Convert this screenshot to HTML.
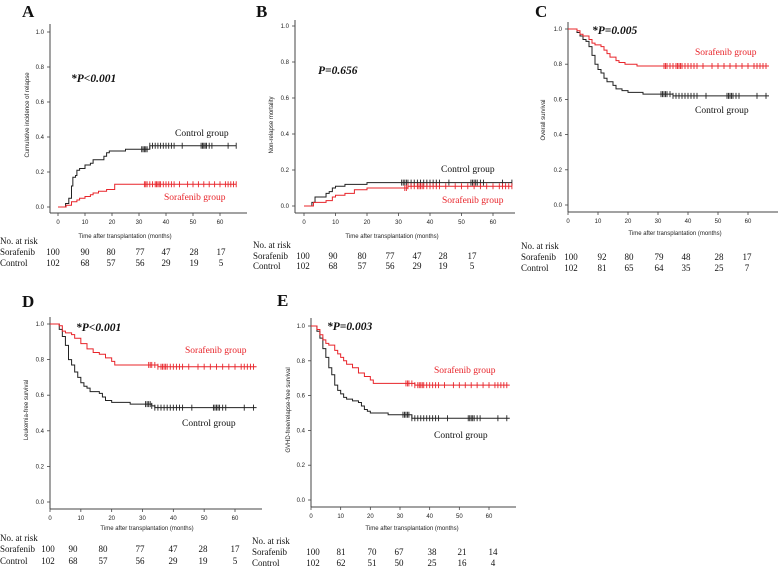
<!DOCTYPE html>
<html><head><meta charset="utf-8">
<style>
html,body{margin:0;padding:0;background:#fff;}
svg{display:block;}
.tk{font-family:"Liberation Sans",sans-serif;font-size:6px;fill:#222;}
.ser{font-family:"Liberation Serif",serif;fill:#111;}
</style></head>
<body>
<svg id="fig" width="778" height="567" viewBox="0 0 778 567" xmlns="http://www.w3.org/2000/svg"></svg>
<script>
// ---- data ----
const xTicks = [0,10,20,30,40,50,60];
const yTicks = [0,0.2,0.4,0.6,0.8,1.0];
const riskSorA = [100,90,80,77,47,28,17];
const riskCtlA = [102,68,57,56,29,19,5];
const riskSorC = [100,92,80,79,48,28,17];
const riskCtlC = [102,81,65,64,35,25,7];
const riskSorE = [100,81,70,67,38,21,14];
const riskCtlE = [102,62,51,50,25,16,4];

const ctlA = [[0,0],[2.8,0.02],[4,0.05],[5,0.12],[5.5,0.17],[6.5,0.18],[7,0.21],[8,0.22],[10,0.24],[12,0.25],[13,0.27],[16,0.27],[17,0.29],[18,0.31],[19,0.32],[25,0.33],[34,0.35],[66,0.35]];
const sorA = [[0,0],[3,0.01],[5,0.03],[7,0.04],[8,0.05],[10,0.06],[12,0.07],[13,0.08],[15,0.09],[18,0.10],[21,0.13],[66,0.13]];
const ctlB = [[0,0],[2.5,0.02],[3.5,0.05],[7,0.07],[8,0.08],[9,0.10],[10,0.11],[13,0.12],[20,0.13],[66,0.13]];
const sorB = [[0,0],[3,0.02],[7,0.03],[9,0.05],[10,0.06],[13,0.07],[16,0.09],[20,0.10],[33,0.11],[66,0.11]];
const ctlC = [[0,1],[3,0.98],[4,0.96],[5,0.94],[6,0.93],[7,0.90],[8,0.85],[9,0.80],[10,0.77],[11,0.75],[12,0.72],[13,0.70],[15,0.68],[16,0.66],[18,0.65],[20,0.64],[25,0.63],[35,0.62],[67,0.62]];
const sorC = [[0,1],[3,0.99],[4,0.97],[5,0.96],[7,0.94],[8,0.92],[9,0.91],[11,0.90],[12,0.88],[13,0.86],[14,0.84],[16,0.82],[17,0.81],[19,0.80],[23,0.79],[67,0.79]];
const ctlD = [[0,1],[3,0.97],[4,0.93],[5,0.88],[6,0.80],[7,0.77],[8,0.73],[9,0.70],[10,0.67],[11,0.65],[12,0.64],[13,0.62],[16,0.61],[17,0.59],[18,0.57],[20,0.56],[26,0.55],[33,0.54],[34,0.53],[67,0.53]];
const sorD = [[0,1],[3,0.99],[4,0.96],[5,0.95],[7,0.94],[8,0.92],[10,0.89],[12,0.86],[14,0.84],[16,0.83],[18,0.81],[20,0.79],[21,0.77],[35,0.76],[67,0.76]];
const ctlE = [[0,1],[2,0.97],[3,0.93],[4,0.87],[5,0.82],[6,0.76],[7,0.72],[8,0.66],[9,0.63],[10,0.61],[11,0.59],[12,0.58],[14,0.57],[16,0.56],[17,0.54],[18,0.52],[19,0.51],[20,0.50],[26,0.49],[34,0.47],[67,0.47]];
const sorE = [[0,1],[2,0.98],[3,0.95],[4,0.92],[5,0.90],[6,0.89],[8,0.86],[9,0.84],[10,0.82],[11,0.80],[12,0.78],[14,0.76],[16,0.73],[18,0.71],[20,0.69],[21,0.67],[35,0.66],[67,0.66]];

const censCtl = [31,31.5,32,32.5,33,34,35,36,37,38,39,40,41,42,43,46,53,53.5,54,54.5,55,56,57,63,66];
const censSor = [32,32.5,33,34,35,36,36.5,37,37.5,38,39,40,41,42,43,45,48,50,52,54,56,58,60,62,63,64,65,66];

// ---- layout ----
const panels = [
 {id:'a',letter:'A',yax:50,x0:58,x60:220,y1:32,y0:207,axY:213,xEnd:247,top:24,ctl:ctlA,sor:sorA,rs:riskSorA,rc:riskCtlA,
  ytitle:'Cumulative incidence of relapse',ytx:29,yty:115,xtx:125,xty:238,lx:22,ly:17,p:'*P<0.001',px:71,py:82,
  cx:175,cy:136,sx:164,sy:200,riskX:[53,85,111,140,166,194,221],riskY:[244,255,266],lab:0},
 {id:'b',letter:'B',yax:295,x0:304,x60:493,y1:26,y0:206,axY:213,xEnd:515,top:20,ctl:ctlB,sor:sorB,rs:riskSorA,rc:riskCtlA,
  ytitle:'Non-relapse mortality',ytx:273,yty:125,xtx:392,xty:238,lx:256,ly:17,p:'P=0.656',px:318,py:74,
  cx:441,cy:172,sx:442,sy:203,riskX:[303,333,362,390,417,443,472],riskY:[248,259,269],lab:253},
 {id:'c',letter:'C',yax:568,x0:568,x60:748,y1:29,y0:205,axY:212,xEnd:778,top:22,ctl:ctlC,sor:sorC,rs:riskSorC,rc:riskCtlC,
  ytitle:'Overall survival',ytx:545,yty:120,xtx:675,xty:235,lx:535,ly:17,p:'*P=0.005',px:592,py:34,
  cx:695,cy:113,sx:695,sy:55,riskX:[571,602,629,659,686,719,747],riskY:[249,260,271],lab:521},
 {id:'d',letter:'D',yax:50,x0:50,x60:235,y1:324,y0:502,axY:509,xEnd:262,top:317,ctl:ctlD,sor:sorD,rs:riskSorA,rc:riskCtlA,
  ytitle:'Leukemia-free survival',ytx:28,yty:410,xtx:147,xty:530,lx:22,ly:307,p:'*P<0.001',px:76,py:331,
  cx:182,cy:426,sx:185,sy:353,riskX:[48,73,103,140,173,203,235],riskY:[541,552,564],lab:0},
 {id:'e',letter:'E',yax:311,x0:311,x60:489,y1:326,y0:500,axY:507,xEnd:516,top:318,ctl:ctlE,sor:sorE,rs:riskSorE,rc:riskCtlE,
  ytitle:'GVHD-free/relapse-free survival',ytx:290,yty:410,xtx:412,xty:530,lx:277,ly:306,p:'*P=0.003',px:327,py:330,
  cx:434,cy:438,sx:434,sy:373,riskX:[313,341,372,399,432,462,493],riskY:[544,555,566],lab:252}
];

const NS='http://www.w3.org/2000/svg';
const svg=document.getElementById('fig');
function mk(tag,attrs,parent,txt){const e=document.createElementNS(NS,tag);for(const k in attrs)e.setAttribute(k,attrs[k]);if(txt!==undefined)e.textContent=txt;(parent||svg).appendChild(e);return e;}
const RED='#e8242a', BLK='#222';

function valAt(data,t){let v=data[0][1];for(const p of data){if(p[0]<=t)v=p[1];}return v;}

panels.forEach(P=>{
  const X=t=>P.x0+(P.x60-P.x0)*t/60;
  const Y=v=>P.y0+(P.y1-P.y0)*v;
  const g=mk('g',{});
  
  
  const L=mk('text',{x:P.lx,y:P.ly,'font-size':17,'font-weight':'bold',class:'ser'},g,P.letter);
  
  
  const ya=mk('line',{x1:P.yax,y1:P.top,x2:P.yax,y2:P.axY,stroke:'#444','stroke-width':1},g);
  
  
  const xa=mk('line',{x1:P.yax,y1:P.axY,x2:P.xEnd,y2:P.axY,stroke:'#444','stroke-width':1},g);
  
  
  yTicks.forEach(v=>{
    mk('line',{x1:P.yax-3,y1:Y(v),x2:P.yax,y2:Y(v),stroke:'#444','stroke-width':0.8},g);
    const t=mk('text',{x:P.yax-6,y:Y(v)+2,'text-anchor':'end',class:'tk'},g,v.toFixed(1));
    
    
  });
  xTicks.forEach(v=>{
    mk('line',{x1:X(v),y1:P.axY,x2:X(v),y2:P.axY+3,stroke:'#444','stroke-width':0.8},g);
    const t=mk('text',{x:X(v),y:P.axY+11,'text-anchor':'middle',class:'tk'},g,String(v));
    
    
  });
  const yt=mk('text',{x:0,y:0,'text-anchor':'middle',class:'tk',transform:`translate(${P.ytx},${P.yty}) rotate(-90)`},g,P.ytitle);
  
  
  const xt=mk('text',{x:P.xtx,y:P.xty,'text-anchor':'middle',class:'tk'},g,'Time after transplantation (months)');
  
  
  [[P.ctl,BLK,censCtl,'control'],[P.sor,RED,censSor,'sorafenib']].forEach(([d,col,cens,nm])=>{
    let s=`M${X(d[0][0])},${Y(d[0][1])}`;
    for(let i=1;i<d.length;i++){s+=` H${X(d[i][0])} V${Y(d[i][1])}`;}
    const p=mk('path',{d:s,fill:'none',stroke:col,'stroke-width':1},g);
    
    
    const last=d[d.length-1][0];
    cens.filter(t=>t<=last).forEach(t=>{
      const c=mk('line',{x1:X(t),y1:Y(valAt(d,t))-3,x2:X(t),y2:Y(valAt(d,t))+3,stroke:col,'stroke-width':0.9},g);
      
      
    });
  });
  const pv=mk('text',{x:P.px,y:P.py,'font-size':11.5,'font-weight':'bold','font-style':'italic',class:'ser'},g,P.p);
  
  
  const cl=mk('text',{x:P.cx,y:P.cy,'font-size':9.5,class:'ser'},g,'Control group');
  
  
  const sl=mk('text',{x:P.sx,y:P.sy,'font-size':9.5,class:'ser',style:'fill:'+RED},g,'Sorafenib group');
  
  
  const rt=mk('g',{},g);
  
  
  mk('text',{x:P.lab,y:P.riskY[0],'font-size':9,class:'ser'},rt,'No. at risk');
  mk('text',{x:P.lab,y:P.riskY[1],'font-size':9,class:'ser'},rt,'Sorafenib');
  mk('text',{x:P.lab,y:P.riskY[2],'font-size':9,class:'ser'},rt,'Control');
  P.rs.forEach((n,i)=>{mk('text',{x:P.riskX[i],y:P.riskY[1],'font-size':9,'text-anchor':'middle',class:'ser'},rt,String(n));});
  P.rc.forEach((n,i)=>{mk('text',{x:P.riskX[i],y:P.riskY[2],'font-size':9,'text-anchor':'middle',class:'ser'},rt,String(n));});
});
</script>
</body></html>
